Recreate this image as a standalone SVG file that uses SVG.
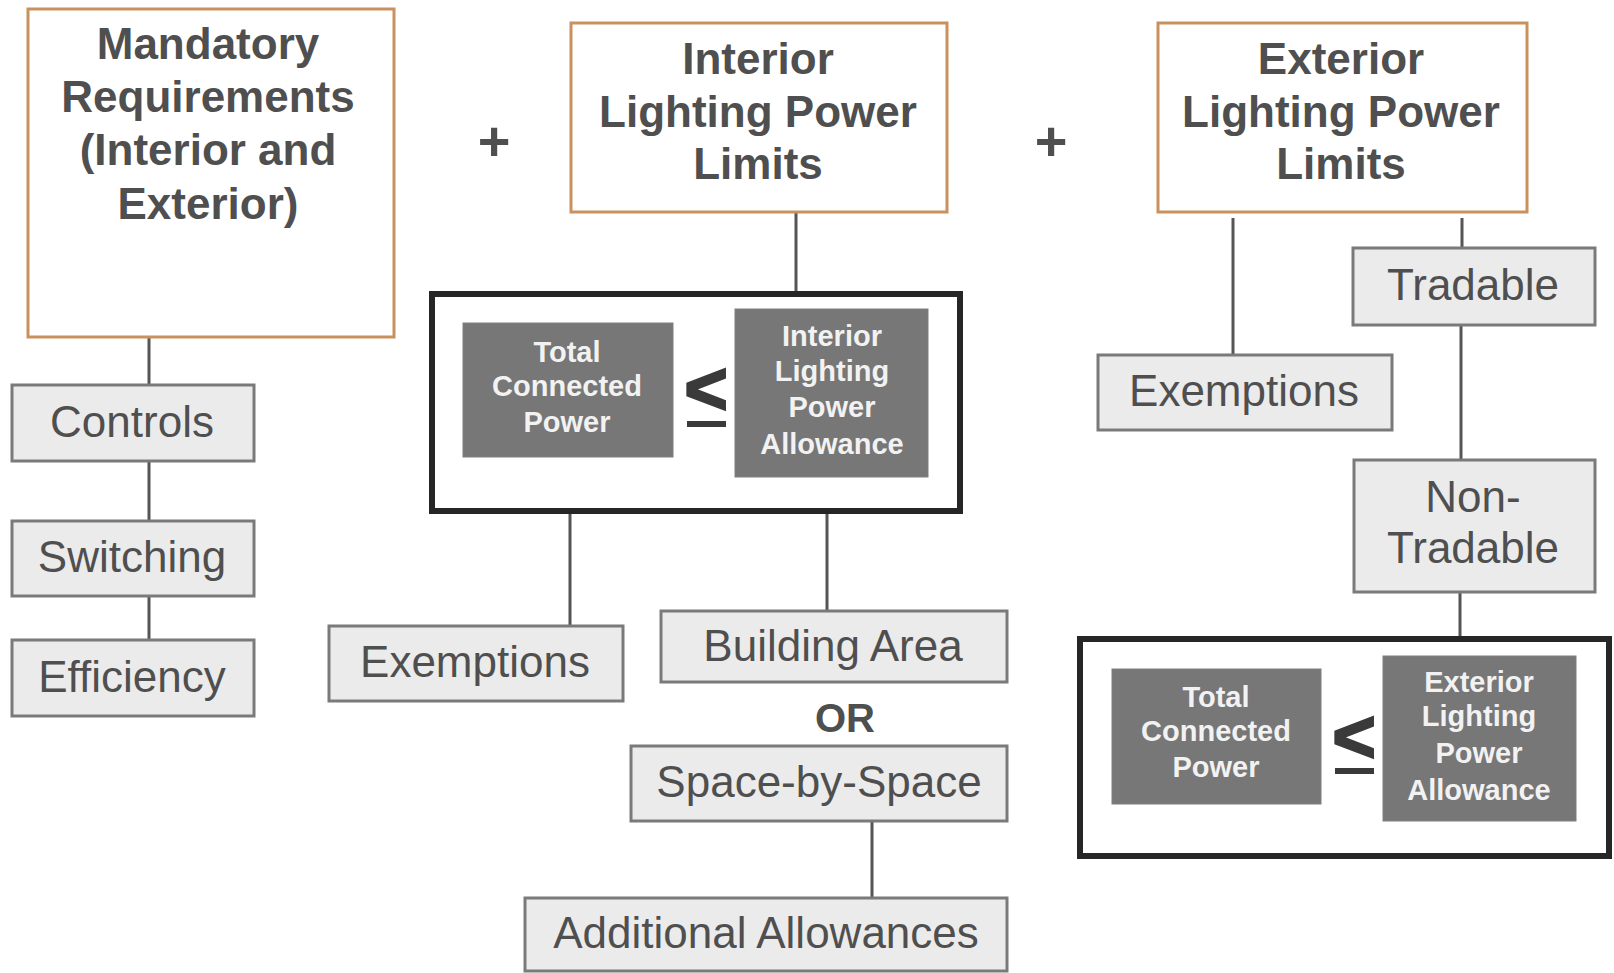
<svg xmlns="http://www.w3.org/2000/svg" width="1614" height="973" viewBox="0 0 1614 973">
<style>
.bg{fill:#ffffff}
.head{fill:#ffffff;stroke:#c8915e;stroke-width:3}
.node{fill:#ebebeb;stroke:#7a7a7a;stroke-width:3}
.frame{fill:#ffffff;stroke:#262626;stroke-width:6}
.dark{fill:#777777;stroke:#808080;stroke-width:1}
.ht{font-family:"Liberation Sans",Arial,sans-serif;font-weight:bold;font-size:44px;fill:#4f4f4f;text-anchor:middle}
.nt{font-family:"Liberation Sans",Arial,sans-serif;font-size:44px;fill:#4f4f4f;text-anchor:middle}
.wt{font-family:"Liberation Sans",Arial,sans-serif;font-weight:bold;font-size:29px;fill:#f2f2f2;text-anchor:middle}
.sym{font-family:"Liberation Sans",Arial,sans-serif;font-weight:bold;fill:#3a3a3a;stroke:#3a3a3a;stroke-width:2.5;text-anchor:middle}
.conn line{stroke:#555555;stroke-width:3}
</style>
<rect class="bg" x="0" y="0" width="1614" height="973"/>
<g class="conn" id="connectors">
<line x1="149" y1="337" x2="149" y2="385"/>
<line x1="149" y1="461" x2="149" y2="521"/>
<line x1="149" y1="596" x2="149" y2="640"/>
<line x1="796" y1="212" x2="796" y2="292"/>
<line x1="570" y1="512" x2="570" y2="626"/>
<line x1="827" y1="512" x2="827" y2="611"/>
<line x1="872" y1="821" x2="872" y2="898"/>
<line x1="1233" y1="218" x2="1233" y2="355"/>
<line x1="1462" y1="218" x2="1462" y2="248"/>
<line x1="1461" y1="325" x2="1461" y2="460"/>
<line x1="1460" y1="592" x2="1460" y2="638"/>
</g>
<g id="plus1"><text class="ht" x="494" y="160" style="font-size:56px">+</text></g>
<g id="plus2"><text class="ht" x="1051" y="160" style="font-size:56px">+</text></g>
<g id="mandatory">
<rect class="head" x="28" y="9" width="366" height="328"/>
<text class="ht" x="208" y="59">Mandatory</text>
<text class="ht" x="208" y="112">Requirements</text>
<text class="ht" x="208" y="165">(Interior and</text>
<text class="ht" x="208" y="219">Exterior)</text>
</g>
<g id="controls">
<rect class="node" x="12" y="385" width="242" height="76"/>
<text class="nt" x="132" y="437">Controls</text>
</g>
<g id="switching">
<rect class="node" x="12" y="521" width="242" height="75"/>
<text class="nt" x="132" y="572">Switching</text>
</g>
<g id="efficiency">
<rect class="node" x="12" y="640" width="242" height="76"/>
<text class="nt" x="132" y="692">Efficiency</text>
</g>
<g id="interior-lpl">
<rect class="head" x="571" y="23" width="376" height="189"/>
<text class="ht" x="758" y="74">Interior</text>
<text class="ht" x="758" y="127">Lighting Power</text>
<text class="ht" x="758" y="179">Limits</text>
</g>
<g id="interior-compare">
<rect class="frame" x="432" y="294" width="528" height="217"/>
<g id="interior-tcp">
<rect class="dark" x="463" y="323" width="210" height="134"/>
<text class="wt" x="567" y="362">Total</text>
<text class="wt" x="567" y="396">Connected</text>
<text class="wt" x="567" y="432">Power</text>
</g>
<g id="interior-le">
<text class="sym" x="706" y="414" font-size="74">&lt;</text>
<rect x="687" y="421" width="39" height="6" fill="#3a3a3a"/>
</g>
<g id="interior-lpa">
<rect class="dark" x="735" y="309" width="193" height="168"/>
<text class="wt" x="832" y="346">Interior</text>
<text class="wt" x="832" y="381">Lighting</text>
<text class="wt" x="832" y="417">Power</text>
<text class="wt" x="832" y="454">Allowance</text>
</g>
</g>
<g id="interior-exemptions">
<rect class="node" x="329" y="626" width="294" height="75"/>
<text class="nt" x="475" y="677">Exemptions</text>
</g>
<g id="building-area">
<rect class="node" x="661" y="611" width="346" height="71"/>
<text class="nt" x="833" y="661">Building Area</text>
</g>
<g id="or"><text class="ht" x="845" y="732" style="font-size:40px">OR</text></g>
<g id="space-by-space">
<rect class="node" x="631" y="746" width="376" height="75"/>
<text class="nt" x="819" y="797">Space-by-Space</text>
</g>
<g id="additional-allowances">
<rect class="node" x="525" y="898" width="482" height="73"/>
<text class="nt" x="766" y="948">Additional Allowances</text>
</g>
<g id="exterior-lpl">
<rect class="head" x="1158" y="23" width="369" height="189"/>
<text class="ht" x="1341" y="74">Exterior</text>
<text class="ht" x="1341" y="127">Lighting Power</text>
<text class="ht" x="1341" y="179">Limits</text>
</g>
<g id="exterior-exemptions">
<rect class="node" x="1098" y="355" width="294" height="75"/>
<text class="nt" x="1244" y="406">Exemptions</text>
</g>
<g id="tradable">
<rect class="node" x="1353" y="248" width="242" height="77"/>
<text class="nt" x="1473" y="300">Tradable</text>
</g>
<g id="non-tradable">
<rect class="node" x="1354" y="460" width="241" height="132"/>
<text class="nt" x="1473" y="512">Non-</text>
<text class="nt" x="1473" y="563">Tradable</text>
</g>
<g id="exterior-compare">
<rect class="frame" x="1080" y="639" width="529" height="217"/>
<g id="exterior-tcp">
<rect class="dark" x="1112" y="669" width="209" height="135"/>
<text class="wt" x="1216" y="707">Total</text>
<text class="wt" x="1216" y="741">Connected</text>
<text class="wt" x="1216" y="777">Power</text>
</g>
<g id="exterior-le">
<text class="sym" x="1354" y="762" font-size="74">&lt;</text>
<rect x="1335" y="768" width="39" height="6" fill="#3a3a3a"/>
</g>
<g id="exterior-lpa">
<rect class="dark" x="1383" y="656" width="193" height="165"/>
<text class="wt" x="1479" y="692">Exterior</text>
<text class="wt" x="1479" y="726">Lighting</text>
<text class="wt" x="1479" y="763">Power</text>
<text class="wt" x="1479" y="800">Allowance</text>
</g>
</g>
</svg>
